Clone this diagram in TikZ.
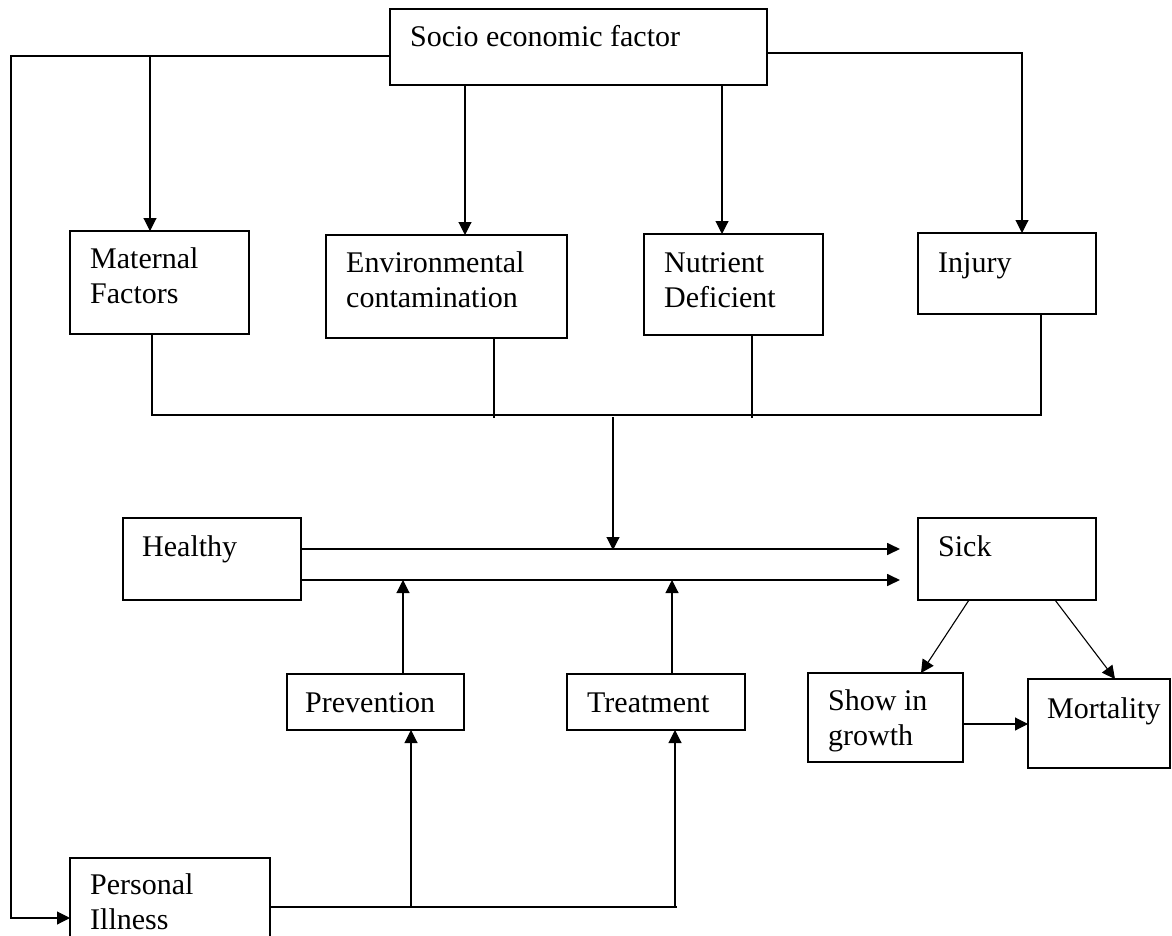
\documentclass[tikz,border=0pt]{standalone}
\usepackage{fontspec}
\setmainfont{Liberation Serif}
\usetikzlibrary{arrows.meta}
\begin{document}
\begin{tikzpicture}[x=1pt,y=-1pt,
  box/.style={draw, line width=1.6pt, inner sep=0pt, outer sep=0pt, anchor=north west},
  lbl/.style={anchor=base west, inner sep=0pt, font=\fontsize{30}{35}\selectfont},
  ln/.style={line width=1.1pt},
  arr/.style={ln, -{Triangle[length=13pt,width=13pt]}},
  thick arr/.style={line width=1.7pt, -{Triangle[length=13pt,width=12pt]}}]
\useasboundingbox (0,0) rectangle (1172,936);
\clip (0,0) rectangle (1172,936);
% boxes
\node[box, minimum width=377pt, minimum height=76pt] (soc) at (390,9) {};
\node[box, minimum width=179pt, minimum height=103pt] (mat) at (70,231) {};
\node[box, minimum width=241pt, minimum height=103pt] (env) at (326,235) {};
\node[box, minimum width=179pt, minimum height=101pt] (nut) at (644,234) {};
\node[box, minimum width=178pt, minimum height=81pt] (inj) at (918,233) {};
\node[box, minimum width=178pt, minimum height=82pt] (hea) at (123,518) {};
\node[box, minimum width=178pt, minimum height=82pt] (sick) at (918,518) {};
\node[box, minimum width=177pt, minimum height=56pt] (prev) at (287,674) {};
\node[box, minimum width=178pt, minimum height=56pt] (treat) at (567,674) {};
\node[box, minimum width=155pt, minimum height=89pt] (show) at (808,673) {};
\node[box, minimum width=142pt, minimum height=89pt] (mort) at (1028,679) {};
\node[box, minimum width=200pt, minimum height=110pt] (pers) at (70,858) {};
% texts
\node[lbl] (socT) at (410,47) {Socio economic factor};
\node[lbl] (matT1) at (90,268) {Maternal};
\node[lbl] (matT2) at (90,303) {Factors};
\node[lbl] (envT1) at (346,272) {Environmental};
\node[lbl] (envT2) at (346,307) {contamination};
\node[lbl] (nutT1) at (664,272) {Nutrient};
\node[lbl] (nutT2) at (664,307) {Deficient};
\node[lbl] (injT) at (938,272) {Injury};
\node[lbl] (heaT) at (142,556) {Healthy};
\node[lbl] (sickT) at (938,556) {Sick};
\node[lbl] (prevT) at (305,712) {Prevention};
\node[lbl] (treatT) at (587,712) {Treatment};
\node[lbl] (showT1) at (828,710) {Show in};
\node[lbl] (showT2) at (828,745) {growth};
\node[lbl] (mortT) at (1047,718) {Mortality};
\node[lbl] (persT1) at (90,894) {Personal};
\node[lbl] (persT2) at (90,929) {Illness};
% junction coordinates
\coordinate (lj) at (11,56);
\coordinate (mj) at (150,56);
\coordinate (rj) at (1022,53);
\coordinate (cj) at (613,417);
\coordinate (pj) at (411,907);
\coordinate (tj) at (675,907);
% connectors from socio economic factor
\draw[arr] (soc.west |- lj) -- (lj) -- (11,918) -- (pers.west |- 0,918);
\draw[arr] (mj) -- (mj |- mat.north);
\draw[arr] (465,0 |- soc.south) -- (465,0 |- env.north);
\draw[arr] (722,0 |- soc.south) -- (722,0 |- nut.north);
\draw[arr] (soc.east |- rj) -- (rj) -- (rj |- inj.north);
% collector
\draw[line width=1.5pt] (152,0 |- mat.south) -- (152,415) -- (1041,415) -- (1041,0 |- inj.south);
\draw[ln] (494,0 |- env.south) -- (494,418);
\draw[ln] (752,0 |- nut.south) -- (752,418);
\draw[arr] (cj) -- (613,550);
% healthy to sick
\draw[thick arr] (hea.east |- 0,549) -- (900,549);
\draw[thick arr] (hea.east |- 0,580) -- (900,580);
\draw[arr] (403,0 |- prev.north) -- (403,580);
\draw[arr] (672,0 |- treat.north) -- (672,580);
% personal illness
\draw[line width=1.4pt] (pers.east |- pj) -- (677,907);
\draw[arr] (pj) -- (pj |- prev.south);
\draw[arr] (tj) -- (tj |- treat.south);
% sick outcomes
\draw[arr] (969,0 |- sick.south) -- (921,0 |- show.north);
\draw[arr] (1055,0 |- sick.south) -- (1115,0 |- mort.north);
\draw[arr] (show.east |- 0,724) -- (mort.west |- 0,724);
\end{tikzpicture}
\end{document}
